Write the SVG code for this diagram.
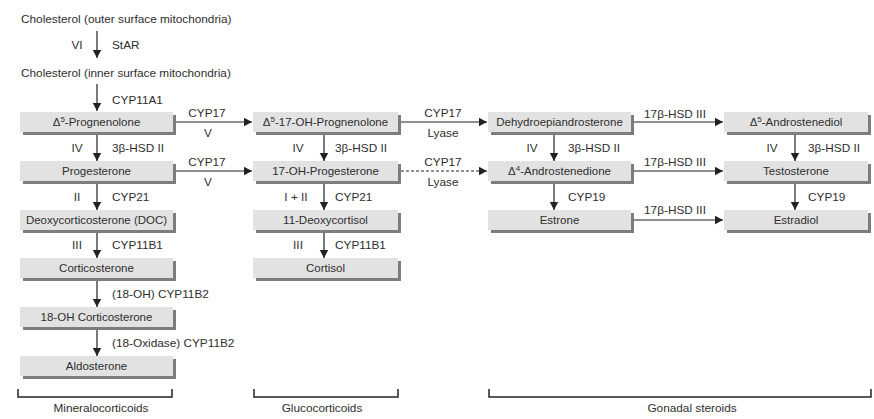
<svg xmlns="http://www.w3.org/2000/svg" width="874" height="419" viewBox="0 0 874 419">
<style>
text{font-family:"Liberation Sans",Arial,sans-serif;font-size:11.8px;fill:#2e2e2e}
.m{text-anchor:middle}
.b{fill:#e2e2e2}
.s{fill:#7d7d7d}
.bt{font-size:11.5px}
.sup{font-size:8px}
#connectors line{stroke:#222;stroke-width:1.2;fill:none}
#connectors .a{marker-end:url(#ah)}
#connectors .d{stroke-dasharray:3 2}
#brackets path{stroke:#222;stroke-width:1.5;fill:none}
</style>
<defs>
<marker id="ah" markerUnits="userSpaceOnUse" markerWidth="10" markerHeight="10" refX="8.5" refY="4.5" orient="auto"><path d="M0,0 L8.5,4.5 L0,9 z" fill="#222"/></marker>
</defs>
<rect width="874" height="419" fill="#fff"/>

<g id="chol-outer"><text x="21" y="23">Cholesterol (outer surface mitochondria)</text></g>
<g id="chol-inner"><text x="21" y="77">Cholesterol (inner surface mitochondria)</text></g>

<g id="pregnenolone"><rect class="s" x="23" y="115" width="153" height="20"/><rect class="b" x="20" y="112" width="153" height="20"/><text class="m bt" x="96.5" y="126">Δ<tspan class="sup" dy="-4">5</tspan><tspan dy="4">-Prognenolone</tspan></text></g>
<g id="progesterone"><rect class="s" x="23" y="164" width="153" height="20"/><rect class="b" x="20" y="161" width="153" height="20"/><text class="m bt" x="96.5" y="175">Progesterone</text></g>
<g id="doc"><rect class="s" x="23" y="213" width="153" height="20"/><rect class="b" x="20" y="210" width="153" height="20"/><text class="m bt" x="96.5" y="224">Deoxycorticosterone (DOC)</text></g>
<g id="corticosterone"><rect class="s" x="23" y="261" width="153" height="20"/><rect class="b" x="20" y="258" width="153" height="20"/><text class="m bt" x="96.5" y="272">Corticosterone</text></g>
<g id="oh18-corticosterone"><rect class="s" x="23" y="310" width="153" height="20"/><rect class="b" x="20" y="307" width="153" height="20"/><text class="m bt" x="96.5" y="321">18-OH Corticosterone</text></g>
<g id="aldosterone"><rect class="s" x="23" y="359" width="153" height="20"/><rect class="b" x="20" y="356" width="153" height="20"/><text class="m bt" x="96.5" y="370">Aldosterone</text></g>

<g id="oh17-pregnenolone"><rect class="s" x="256" y="115" width="145" height="20"/><rect class="b" x="253" y="112" width="145" height="20"/><text class="m bt" x="325.5" y="126">Δ<tspan class="sup" dy="-4">5</tspan><tspan dy="4">-17-OH-Prognenolone</tspan></text></g>
<g id="oh17-progesterone"><rect class="s" x="256" y="164" width="145" height="20"/><rect class="b" x="253" y="161" width="145" height="20"/><text class="m bt" x="325.5" y="175">17-OH-Progesterone</text></g>
<g id="deoxycortisol"><rect class="s" x="256" y="213" width="145" height="20"/><rect class="b" x="253" y="210" width="145" height="20"/><text class="m bt" x="325.5" y="224">11-Deoxycortisol</text></g>
<g id="cortisol"><rect class="s" x="256" y="261" width="145" height="20"/><rect class="b" x="253" y="258" width="145" height="20"/><text class="m bt" x="325.5" y="272">Cortisol</text></g>

<g id="dhea"><rect class="s" x="491" y="115" width="143" height="20"/><rect class="b" x="488" y="112" width="143" height="20"/><text class="m bt" x="559.5" y="126">Dehydroepiandrosterone</text></g>
<g id="androstenedione"><rect class="s" x="491" y="164" width="143" height="20"/><rect class="b" x="488" y="161" width="143" height="20"/><text class="m bt" x="559.5" y="175">Δ<tspan class="sup" dy="-4">4</tspan><tspan dy="4">-Androstenedione</tspan></text></g>
<g id="estrone"><rect class="s" x="491" y="213" width="143" height="20"/><rect class="b" x="488" y="210" width="143" height="20"/><text class="m bt" x="559.5" y="224">Estrone</text></g>

<g id="androstenediol"><rect class="s" x="727" y="115" width="144" height="20"/><rect class="b" x="724" y="112" width="144" height="20"/><text class="m bt" x="796" y="126">Δ<tspan class="sup" dy="-4">5</tspan><tspan dy="4">-Androstenediol</tspan></text></g>
<g id="testosterone"><rect class="s" x="727" y="164" width="144" height="20"/><rect class="b" x="724" y="161" width="144" height="20"/><text class="m bt" x="796" y="175">Testosterone</text></g>
<g id="estradiol"><rect class="s" x="727" y="213" width="144" height="20"/><rect class="b" x="724" y="210" width="144" height="20"/><text class="m bt" x="796" y="224">Estradiol</text></g>

<g id="connectors">
<line class="a" x1="97" y1="31" x2="97" y2="58"/>
<line class="a" x1="97" y1="84" x2="97" y2="111"/>
<line class="a" x1="97" y1="135" x2="97" y2="161"/>
<line class="a" x1="97" y1="184" x2="97" y2="210"/>
<line class="a" x1="97" y1="233" x2="97" y2="258"/>
<line class="a" x1="97" y1="281" x2="97" y2="307"/>
<line class="a" x1="97" y1="330" x2="97" y2="356"/>
<line class="a" x1="324" y1="135" x2="324" y2="161"/>
<line class="a" x1="324" y1="184" x2="324" y2="210"/>
<line class="a" x1="324" y1="233" x2="324" y2="258"/>
<line class="a" x1="554" y1="135" x2="554" y2="161"/>
<line class="a" x1="554" y1="184" x2="554" y2="210"/>
<line class="a" x1="795" y1="135" x2="795" y2="161"/>
<line class="a" x1="795" y1="184" x2="795" y2="210"/>
<line class="a" x1="176" y1="122" x2="252" y2="122"/>
<line class="a" x1="176" y1="171" x2="252" y2="171"/>
<line class="a" x1="401" y1="122" x2="487" y2="122"/>
<line class="a d" x1="401" y1="171" x2="487" y2="171"/>
<line class="a" x1="634" y1="122" x2="723" y2="122"/>
<line class="a" x1="634" y1="171" x2="723" y2="171"/>
<line class="a" x1="634" y1="220" x2="723" y2="220"/>
</g>

<g id="labels">
<text class="m" x="77" y="49">VI</text><text x="112" y="49">StAR</text>
<text x="112" y="104">CYP11A1</text>
<text class="m" x="77" y="152">IV</text><text x="112" y="152">3β-HSD II</text>
<text class="m" x="77" y="201">II</text><text x="112" y="201">CYP21</text>
<text class="m" x="77" y="249">III</text><text x="112" y="249">CYP11B1</text>
<text x="112" y="298">(18-OH) CYP11B2</text>
<text x="112" y="347">(18-Oxidase) CYP11B2</text>
<text class="m" x="298" y="152">IV</text><text x="335" y="152">3β-HSD II</text>
<text class="m" x="296" y="201">I + II</text><text x="335" y="201">CYP21</text>
<text class="m" x="298" y="249">III</text><text x="335" y="249">CYP11B1</text>
<text class="m" x="532" y="152">IV</text><text x="568" y="152">3β-HSD II</text>
<text x="568" y="201">CYP19</text>
<text class="m" x="772" y="152">IV</text><text x="808" y="152">3β-HSD II</text>
<text x="808" y="201">CYP19</text>
<text class="m" x="207" y="117">CYP17</text><text class="m" x="208" y="137">V</text>
<text class="m" x="207" y="166">CYP17</text><text class="m" x="208" y="186">V</text>
<text class="m" x="443" y="117">CYP17</text><text class="m" x="443" y="137">Lyase</text>
<text class="m" x="443" y="166">CYP17</text><text class="m" x="443" y="186">Lyase</text>
<text class="m" x="675" y="118">17β-HSD III</text>
<text class="m" x="675" y="166">17β-HSD III</text>
<text class="m" x="675" y="214">17β-HSD III</text>
</g>

<g id="brackets">
<path d="M18,389 V397 H172 V389"/>
<path d="M254,389 V397 H398 V389"/>
<path d="M489,389 V397 H871 V389"/>
<text class="m" x="101" y="412">Mineralocorticoids</text>
<text class="m" x="322" y="412">Glucocorticoids</text>
<text class="m" x="692" y="412">Gonadal steroids</text>
</g>
</svg>
